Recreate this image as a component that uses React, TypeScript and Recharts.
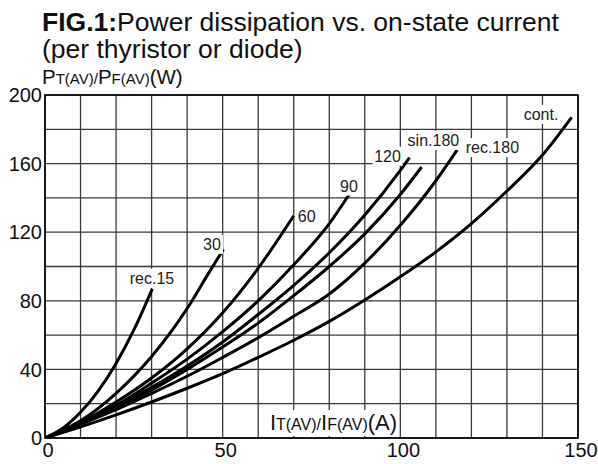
import React from 'react';
import { LineChart, Line, XAxis, YAxis, CartesianGrid, ReferenceDot, ReferenceArea } from 'recharts';

const xTicks = [0, 10, 20, 30, 40, 50, 60, 70, 80, 90, 100, 110, 120, 130, 140, 150];
const yTicks = [0, 20, 40, 60, 80, 100, 120, 140, 160, 180, 200];
const xTickLabels = [0, 50, 100, 150];
const yTickLabels = [0, 40, 80, 120, 160, 200];

const rec15I = [0, 5, 10, 15, 20, 25, 30.2];
const rec15P = [0, 5.7, 15, 27.5, 43.5, 63, 87];
const rec30I = [0, 10, 20, 30, 36, 40, 46, 50.2];
const rec30P = [0, 10, 26, 47.5, 63.5, 75.5, 96, 110];
const rec60I = [0, 10, 20, 30, 40, 50, 60, 70];
const rec60P = [0, 9, 21, 35, 52, 73, 99, 129.6];
const rec90I = [0, 10, 20, 30, 40, 50, 60, 70, 80, 85.6];
const rec90P = [0, 8.5, 19, 32, 46, 62, 80, 101, 125, 142];
const rec120I = [0, 10, 20, 30, 40, 50, 60, 70, 80, 90, 100, 102.6];
const rec120P = [0, 8.5, 18, 29.5, 42, 56, 72, 89, 108, 130, 156, 163.5];
const sin180I = [0, 10, 20, 30, 40, 50, 60, 70, 80, 90, 100, 106];
const sin180P = [0, 8.2, 17.5, 28, 40, 53, 67, 83, 100, 119, 142, 158];
const rec180I = [0, 10, 20, 30, 40, 50, 60, 70, 80, 90, 100, 110, 116];
const rec180P = [0, 8, 16.5, 26, 36, 47, 58.5, 71, 84, 102, 124, 150, 168];
const contI = [0, 10, 20, 30, 40, 50, 60, 70, 80, 90, 100, 110, 120, 130, 140, 148.2];
const contP = [0, 6.5, 13.5, 21, 29, 37.5, 47, 57, 68, 80.5, 94, 108.5, 125, 144, 165, 187];

const seriesNames = ['rec.15', '30', '60', '90', '120', 'sin.180', 'rec.180', 'cont.'];
const seriesI = [rec15I, rec30I, rec60I, rec90I, rec120I, sin180I, rec180I, contI];
const seriesP = [rec15P, rec30P, rec60P, rec90P, rec120P, sin180P, rec180P, contP];
const labelI = [30.1, 47.0, 73.65, 85.55, 96.4, 109.3, 125.9, 139.6];
const labelP = [93.1, 112.9, 129.4, 146.9, 164.4, 173.6, 169.3, 188.7];
const xTitleAt = [81.3, 8.45];

const FONT = '"Liberation Sans", Arial, sans-serif';

const seriesData = seriesNames.map((name, k) =>
  seriesI[k].map((i, j) => ({ i, p: seriesP[k][j] }))
);

const CurveLabel = (props: any) => {
  const { cx, cy, text } = props;
  const w = text.length * 8 + 6;
  const h = 19;
  return (
    <g>
      <rect x={cx - w / 2} y={cy - h / 2} width={w} height={h} fill="#fff" />
      <text x={cx} y={cy + 5.7} textAnchor="middle" fontSize={16} fontFamily={FONT} fill="#222">
        {text}
      </text>
    </g>
  );
};

const XTitle = (props: any) => {
  const { cx, cy } = props;
  return (
    <g>
      <rect x={cx - 68} y={cy - 13.5} width={132} height={26} fill="#fff" />
      <text x={cx - 64} y={cy + 6.5} fontFamily={FONT} fill="#111">
        <tspan fontSize={22}>I</tspan>
        <tspan fontSize={16}>T(AV)/</tspan>
        <tspan fontSize={22}>I</tspan>
        <tspan fontSize={16}>F(AV)</tspan>
        <tspan fontSize={22}>(A)</tspan>
      </text>
    </g>
  );
};

const XTick = (props: any) => {
  const { x, y, payload } = props;
  if (!xTickLabels.includes(payload.value)) return null;
  return (
    <text x={x + 3} y={y} dy="0.71em" textAnchor="middle" fontSize={20} fontFamily={FONT} fill="#111">
      {payload.value}
    </text>
  );
};

export default function App() {
  return (
    <div style={{ position: 'absolute', left: 0, top: 0, width: 598, height: 464, background: '#fff' }}>
      <svg width={598} height={95} style={{ position: 'absolute', left: 0, top: 0 }}>
        <text x={42} y={31} fontSize={26.5} fontFamily={FONT} fill="#111">
          <tspan fontWeight="bold">FIG.1:</tspan>
          <tspan>Power dissipation vs. on-state current</tspan>
        </text>
        <text x={42} y={58} fontSize={26.5} fontFamily={FONT} fill="#111">
          (per thyristor or diode)
        </text>
        <text x={42} y={84} fontFamily={FONT} fill="#111">
          <tspan fontSize={20.5}>P</tspan>
          <tspan fontSize={15}>T(AV)/</tspan>
          <tspan fontSize={20.5}>P</tspan>
          <tspan fontSize={15}>F(AV)</tspan>
          <tspan fontSize={20.5}>(W)</tspan>
        </text>
      </svg>
      <div style={{ position: 'absolute', left: 0, top: 0 }}>
        <LineChart width={598} height={464} margin={{ top: 95, right: 20, bottom: 0, left: 0 }}>
          <CartesianGrid stroke="#3a3a3a" strokeWidth={1.3} />
          <XAxis
            type="number"
            dataKey="i"
            domain={[0, 150]}
            ticks={xTicks}
            interval={0}
            height={26}
            tickLine={false}
            axisLine={false}
            tickSize={0}
            tickMargin={5}
            tick={<XTick />}
            allowDataOverflow
          />
          <YAxis
            type="number"
            domain={[0, 200]}
            ticks={yTicks}
            interval={0}
            width={45}
            tickLine={false}
            axisLine={false}
            tickSize={0}
            tickMargin={3}
            tickFormatter={(v: number) => (yTickLabels.includes(v) ? String(v) : '')}
            tick={{ fill: '#111', fontSize: 20, fontFamily: FONT }}
            allowDataOverflow
          />
          <ReferenceArea x1={0} x2={150} y1={0} y2={200} fill="none" stroke="#000" strokeWidth={1.6} />
          {seriesNames.map((name, k) => (
            <Line
              key={name}
              data={seriesData[k]}
              dataKey="p"
              type="monotone"
              stroke="#000"
              strokeWidth={3}
              dot={false}
              isAnimationActive={false}
            />
          ))}
          {seriesNames.map((name, k) => (
            <ReferenceDot
              key={'lbl' + name}
              x={labelI[k]}
              y={labelP[k]}
              r={1}
              shape={(p: any) => <CurveLabel {...p} text={name} />}
            />
          ))}
          <ReferenceDot x={xTitleAt[0]} y={xTitleAt[1]} r={1} shape={(p: any) => <XTitle {...p} />} />
        </LineChart>
      </div>
    </div>
  );
}
